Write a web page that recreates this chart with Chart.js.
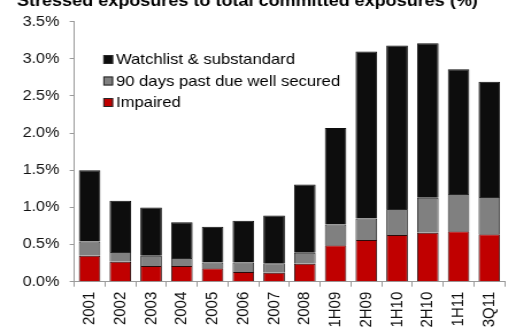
<!DOCTYPE html>
<html>
<head>
<meta charset="utf-8">
<script src="https://cdn.jsdelivr.net/npm/chart.js@4.4.1/dist/chart.umd.min.js"></script>
<style>
html,body{margin:0;padding:0;background:#fff;overflow:hidden;width:516px;height:329px;}
#c{position:absolute;left:0;top:0;width:449px;height:329px;transform:scaleX(1.14922);transform-origin:0 0;}
</style>
</head>
<body>
<canvas id="c" width="449" height="329"></canvas>
<script>
const title = 'Stressed exposures to total committed exposures (%)';
const categories = ['2001','2002','2003','2004','2005','2006','2007','2008','1H09','2H09','1H10','2H10','1H11','3Q11'];
const impaired   = [0.35,0.27,0.21,0.21,0.18,0.13,0.12,0.24,0.49,0.56,0.63,0.66,0.68,0.64];
const pastDue90  = [0.19,0.13,0.14,0.11,0.08,0.13,0.13,0.15,0.28,0.29,0.35,0.47,0.50,0.50];
const watchlist  = [0.96,0.69,0.65,0.48,0.48,0.56,0.64,0.92,1.30,2.25,2.20,2.08,1.68,1.55];
const seriesNames = ['Impaired','90 days past due well secured','Watchlist & substandard'];
const yTicks = [0,0.5,1.0,1.5,2.0,2.5,3.0,3.5];

const FONT = "'Liberation Sans', Arial, sans-serif";

const overlay = {
  id: 'overlay',
  afterDraw(chart) {
    const ctx = chart.ctx;
    ctx.save();
    // title
    ctx.fillStyle = '#000';
    ctx.font = 'bold 15.7px ' + FONT;
    ctx.textBaseline = 'alphabetic';
    ctx.textAlign = 'left';
    ctx.fillText(title, 14.8, 5.5);
    // legend (reverse order)
    const ds = chart.data.datasets.slice().reverse();
    const rowsY = [59.5, 81, 102.5];
    ctx.font = '14.5px ' + FONT;
    ctx.textBaseline = 'middle';
    ds.forEach((d, i) => {
      const y = rowsY[i];
      ctx.fillStyle = d.backgroundColor;
      ctx.fillRect(89.9, y - 4.5, 8.5, 9);
      ctx.strokeStyle = '#262626';
      ctx.lineWidth = 1;
      ctx.strokeRect(89.9 + 0.5, y - 4.5 + 0.5, 7.5, 8);
      ctx.fillStyle = '#000';
      ctx.fillText(d.label, 100.9, y + 0.5);
    });
    ctx.restore();
  }
};

new Chart(document.getElementById('c'), {
  type: 'bar',
  data: {
    labels: categories,
    datasets: [
      { label: seriesNames[0], data: impaired,  backgroundColor: '#c00000', borderColor: '#2a0a0a', borderWidth: 1 },
      { label: seriesNames[1], data: pastDue90, backgroundColor: '#808080', borderColor: '#262626', borderWidth: 1 },
      { label: seriesNames[2], data: watchlist, backgroundColor: '#0d0d0d', borderColor: '#0d0d0d', borderWidth: 1 }
    ]
  },
  options: {
    responsive: false,
    animation: false,
    devicePixelRatio: 1,
    layout: { padding: { left: 0, right: 5.8, top: 21.7, bottom: 0 } },
    datasets: { bar: { barPercentage: 0.7, categoryPercentage: 1.0 } },
    plugins: { legend: { display: false }, title: { display: false }, tooltip: { enabled: false } },
    scales: {
      x: {
        stacked: true,
        offset: true,
        grid: { offset: true, drawOnChartArea: false, tickLength: 5, color: '#9a9a9a' },
        border: { color: '#9a9a9a' },
        ticks: { minRotation: 90, maxRotation: 90, autoSkip: false, padding: 5, color: '#111', font: { size: 15, family: FONT } },
        afterFit: s => { s.height = 47.3; }
      },
      y: {
        stacked: true,
        min: 0, max: 3.5,
        afterBuildTicks: s => { s.ticks = yTicks.map(v => ({ value: v })); },
        grid: { drawOnChartArea: false, tickLength: 4, color: '#9a9a9a' },
        border: { color: '#9a9a9a' },
        ticks: { padding: 9, color: '#111', font: { size: 14, family: FONT }, callback: v => Number(v).toFixed(1) + '%' },
        afterFit: s => { s.width = 64.6; }
      }
    }
  },
  plugins: [overlay]
});
</script>
</body>
</html>
